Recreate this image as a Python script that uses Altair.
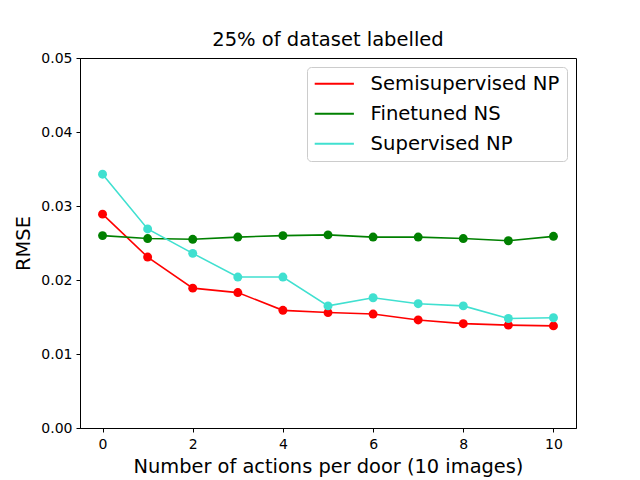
import altair as alt
import pandas as pd

steps = list(range(11))
semi_np = [0.0289, 0.0231, 0.0189, 0.0183, 0.0159, 0.0156, 0.0154, 0.0146, 0.0141, 0.0139, 0.0138]
finetuned_ns = [0.0260, 0.0256, 0.0255, 0.0258, 0.0260, 0.0261, 0.0258, 0.0258, 0.0256, 0.0253, 0.0259]
supervised_np = [0.0343, 0.0269, 0.0236, 0.0204, 0.0204, 0.0165, 0.0176, 0.0168, 0.0165, 0.0148, 0.0149]

series = ["Semisupervised NP", "Finetuned NS", "Supervised NP"]
colors = ["red", "green", "#40E0D0"]

rows = []
for name, vals in zip(series, [semi_np, finetuned_ns, supervised_np]):
    for s, v in zip(steps, vals):
        rows.append({"x": s, "rmse": v, "series": name})
df = pd.DataFrame(rows)

FONT = "DejaVu Sans"

x = alt.X("x:Q", scale=alt.Scale(domain=[-0.5, 10.5], nice=False, zero=False),
          axis=alt.Axis(values=[0, 2, 4, 6, 8, 10], title="Number of actions per door (10 images)",
                        grid=False, format="d", labelPadding=5, titlePadding=6))
y = alt.Y("rmse:Q", scale=alt.Scale(domain=[0, 0.05], nice=False),
          axis=alt.Axis(values=[0, 0.01, 0.02, 0.03, 0.04, 0.05], format=".2f", title="RMSE",
                        grid=False, labelPadding=4, titlePadding=7))

color_scale = alt.Scale(domain=series, range=colors)

lines = alt.Chart(df).mark_line(strokeWidth=1.6).encode(
    x=x, y=y,
    color=alt.Color("series:N", scale=color_scale, sort=series,
                    legend=alt.Legend(title=None, orient="top-right", symbolType="M-4,0L4,0",
                                      symbolSize=96, symbolStrokeWidth=2, labelFontSize=19.6,
                                      labelFont=FONT, rowPadding=9, padding=7, offset=9,
                                      symbolOffset=10.5, labelOffset=26.5,
                                      strokeColor="#cccccc", cornerRadius=4, fillColor="white",
                                      labelLimit=400)),
    detail="series:N",
)
points = alt.Chart(df).mark_circle(size=80, opacity=1).encode(
    x=x, y=y,
    color=alt.Color("series:N", scale=color_scale, sort=series, legend=None),
)

chart = alt.layer(lines, points).properties(
    width=496, height=370,
    title=alt.Title("25% of dataset labelled", fontSize=19.5, font=FONT, fontWeight="normal", offset=1),
    autosize=alt.AutoSizeParams(type="none"),
    padding={"left": 72, "top": 50, "right": 56, "bottom": 52},
).configure_axis(
    labelFont=FONT, titleFont=FONT, labelFontSize=14, titleFontSize=19.4, titleFontWeight="normal",
    domainColor="black", tickColor="black", labelColor="black", titleColor="black",
    tickSize=4,
).configure_title(font=FONT, fontSize=19.5, fontWeight="normal", color="black"
).configure_view(stroke="black", strokeWidth=1)

chart.save("out.html", embed_options={"renderer": "svg", "actions": False})
